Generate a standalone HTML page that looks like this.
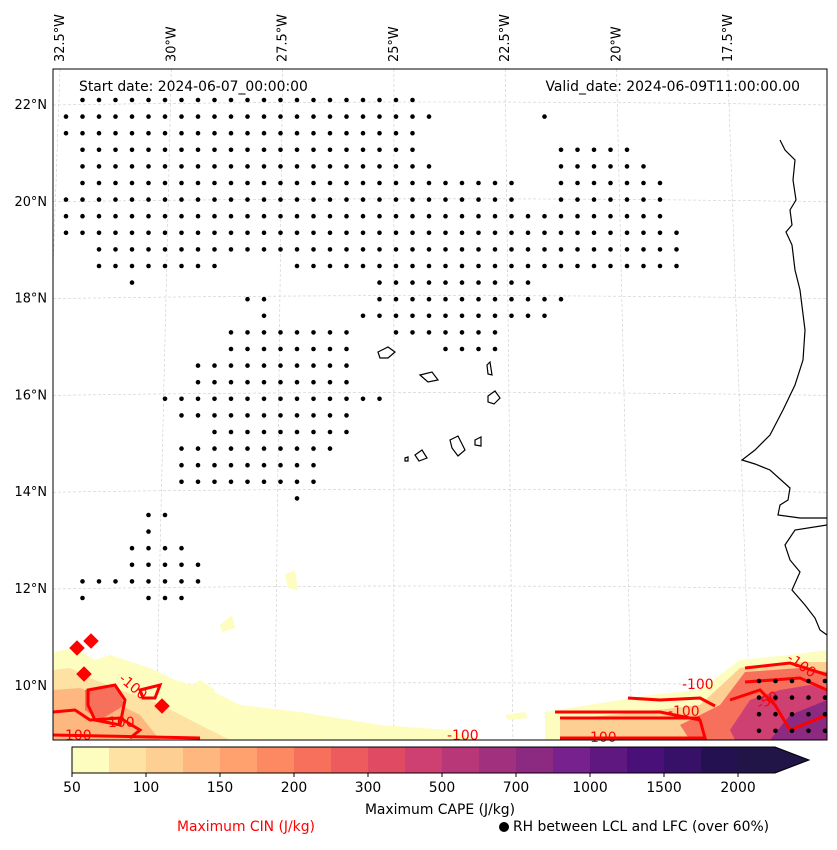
<!DOCTYPE html>
<html><head><meta charset="utf-8">
<style>
body{margin:0;background:#fff;font-family:"Liberation Sans",sans-serif;}
svg text{font-family:"DejaVu Sans","Liberation Sans",sans-serif;}
</style></head>
<body>
<svg id="chart" width="837" height="845" viewBox="0 0 837 845">
<defs><clipPath id="clip"><rect x="53" y="69" width="774" height="671"/></clipPath></defs>
<rect x="0" y="0" width="837" height="845" fill="#fff"/>
<g id="grid" clip-path="url(#clip)"></g>
<g id="fills" clip-path="url(#clip)">
  <path d="M53,652 L75,648 L95,660 L110,655 L150,668 L175,680 L210,690 L240,705 L300,712 L380,725 L450,730 L480,740 L53,740Z" fill="#fcfdbf"/>
  <path d="M53,670 L70,668 L95,680 L120,690 L150,700 L175,712 L200,725 L230,740 L53,740Z" fill="#fde2a3"/>
  <path d="M53,690 L80,688 L110,700 L140,715 L160,740 L53,740Z" fill="#feb77e"/>
  <path d="M85,690 L115,685 L125,705 L100,720 L85,710Z" fill="#f7705c"/>
  <path d="M185,690 L200,680 L215,690 L205,700Z" fill="#fcfdbf"/>
  <path d="M285,575 L295,570 L298,590 L288,588Z" fill="#fcfdbf"/>
  <path d="M220,625 L232,615 L235,628 L222,632Z" fill="#fcfdbf"/>
  <path d="M505,715 L525,712 L528,718 L508,720Z" fill="#fcfdbf"/>
  <path d="M545,712 L620,700 L650,695 L700,690 L740,660 L790,655 L827,650 L827,740 L545,740Z" fill="#fcfdbf"/>
  <path d="M560,720 L640,712 L700,705 L740,668 L790,662 L827,662 L827,740 L560,740Z" fill="#fecf92"/>
  <path d="M680,725 L720,705 L745,672 L800,668 L827,672 L827,740 L690,740Z" fill="#f7705c"/>
  <path d="M730,730 L750,700 L780,690 L810,685 L827,690 L827,740 L735,740Z" fill="#cd4071"/>
  <path d="M770,740 L790,715 L815,705 L827,700 L827,740Z" fill="#8c2981"/>
</g>
<g id="cin" clip-path="url(#clip)" fill="none" stroke="#ff0000" stroke-width="3">
  <path d="M53,712 L75,710 L90,720 L120,718 L140,730 L130,738"/>
  <path d="M88,690 L115,685 L125,700 L120,725 L95,720 L88,705Z"/>
  <path d="M140,690 L160,685 L155,698 L143,698Z"/>
  <path d="M555,712 L620,712 L660,712 L700,720 L705,738 L560,738"/>
  <path d="M560,718 L700,718"/>
  <path d="M628,698 L660,700 L700,698 L715,706"/>
  <path d="M745,668 L790,663 L827,675"/>
  <path d="M745,682 L800,678 L827,690"/>
  <path d="M730,700 L760,690 L775,705 L790,730 L827,715"/>
  <path d="M53,735 L200,738"/>
  <rect x="73" y="644" width="8" height="8" transform="rotate(45 77 648)" fill="#ff0000"/>
  <rect x="87" y="637" width="8" height="8" transform="rotate(45 91 641)" fill="#ff0000"/>
  <rect x="80" y="670" width="8" height="8" transform="rotate(45 84 674)" fill="#ff0000"/>
  <rect x="158" y="702" width="8" height="8" transform="rotate(45 162 706)" fill="#ff0000"/>
</g>
<g font-size="13.9" fill="#ff0000">
  <text x="682" y="689">-100</text><text x="668" y="716">-100</text>
  <text x="447" y="740">-100</text><text x="585" y="742">-100</text>
  <text x="103" y="727">-100</text><text x="60" y="740">-100</text>
  <text x="786" y="660" transform="rotate(35 786 660)">-100</text>
  <text x="118" y="680" transform="rotate(40 118 680)">-100</text>
  <text x="760" y="710" transform="rotate(-30 760 710)">-50</text>
</g>
<g id="dots" clip-path="url(#clip)"></g>
<g fill="none" stroke="#000" stroke-width="1.2" clip-path="url(#clip)">
  <path d="M780,140 L785,150 L795,160 L793,180 L796,200 L790,210 L792,225 L786,232 L792,245 L795,270 L800,290 L805,330 L803,360 L795,385 L783,410 L770,435 L755,450 L742,460 L755,464 L770,470 L790,488 L788,500 L780,505 L778,515 L800,518 L827,518"/>
  <path d="M827,525 L795,530 L785,545 L790,560 L800,572 L792,590 L805,605 L815,618 L820,630 L827,635"/>
  <path d="M378,352 L388,347 L395,352 L388,358 L380,358Z"/>
  <path d="M420,375 L432,372 L438,380 L428,382Z"/>
  <path d="M487,365 L490,362 L492,375 L488,374Z"/>
  <path d="M488,396 L495,391 L500,398 L494,404 L488,402Z"/>
  <path d="M450,440 L458,436 L465,450 L458,456 L452,448Z"/>
  <path d="M475,440 L481,437 L481,446 L475,445Z"/>
  <path d="M415,455 L422,450 L427,458 L419,461Z"/>
  <path d="M405,458 L408,457 L408,461 L405,461Z"/>
</g>
<rect x="53" y="69" width="774" height="671" fill="none" stroke="#000" stroke-width="1"/>
<g id="labels" font-size="12.9" fill="#000"></g>
<text x="79" y="91" font-size="13.9">Start date: 2024-06-07_00:00:00</text>
<text x="800" y="91" font-size="13.9" text-anchor="end">Valid_date: 2024-06-09T11:00:00.00</text>
<g id="cbar"></g>
<text x="440" y="814" font-size="13.9" text-anchor="middle">Maximum CAPE (J/kg)</text>
<text x="246" y="831" font-size="13.9" text-anchor="middle" fill="#ff0000">Maximum CIN (J/kg)</text>
<circle cx="504" cy="827" r="5" fill="#000"/>
<text x="513" y="831" font-size="13.9">RH between LCL and LFC (over 60%)</text>
</svg>
<script>
const lonLabels=["32.5°W","30°W","27.5°W","25°W","22.5°W","20°W","17.5°W"];
const latLabels=["22°N","20°N","18°N","16°N","14°N","12°N","10°N"];
const cbTicks=["50","100","150","200","300","500","700","1000","1500","2000"];
const cbColors=["#fcfdbf","#fde2a3","#fecf92","#feb77e","#fea16e","#fc8961","#f7705c","#ee5b5e","#e04a62","#cd4071","#b73779","#a1307e","#8c2981","#76218d","#5f187f","#4a1079","#361167","#231151","#211447"];
// dot rows: [rowIndex, startCol, endCol]
const dotRows=[[0,1,21],[1,0,22],[1,29,29],[2,0,21],[3,1,21],[3,30,34],[4,1,22],[4,30,35],[5,1,27],[5,30,36],[6,0,27],[6,30,36],[7,0,36],[8,0,37],[9,2,23],[9,24,37],[10,2,9],[10,14,27],[10,28,37],[11,4,4],[11,19,28],[12,11,12],[12,19,30],[13,12,12],[13,18,29],[14,10,17],[14,20,26],[15,10,17],[15,23,26],[16,8,17],[17,8,17],[18,6,19],[19,7,17],[20,9,17],[21,7,16],[22,7,15],[23,7,15],[24,14,14],[25,5,6],[26,5,5],[27,4,7],[28,4,8],[29,1,8],[30,1,1],[30,5,7],[35,42,46],[36,42,46],[37,42,46],[38,42,46],[39,0,0],[39,42,46]];
const NS="http://www.w3.org/2000/svg";
function mk(t,a,p){const e=document.createElementNS(NS,t);for(const k in a)e.setAttribute(k,a[k]);p.appendChild(e);return e;}
const colX=c=>66+16.5*c, rowY=r=>100+16.6*r;
const lonTop=i=>60+111.3*i, latY=i=>105+96.8*i;
const grid=document.getElementById('grid'), lab=document.getElementById('labels');
lonLabels.forEach((s,i)=>{const xt=lonTop(i),xb=xt+(xt-395)*0.07;
 const l=mk('line',{x1:xt,y1:69,x2:xb,y2:740,stroke:'#ccc','stroke-width':0.6,'stroke-dasharray':'3,2'},grid);
 
 const t=mk('text',{x:0,y:0,transform:`translate(${xt+4},62) rotate(-90)`},lab);t.textContent=s;
 });
latLabels.forEach((s,i)=>{const y=latY(i);
 const l=mk('path',{d:`M53,${y} Q440,${y-6} 827,${y}`,fill:'none',stroke:'#ccc','stroke-width':0.6,'stroke-dasharray':'3,2'},grid);
 
 const t=mk('text',{x:47,y:y+4,'text-anchor':'end'},lab);t.textContent=s;
 });
const dots=document.getElementById('dots');
dotRows.forEach(([r,a,b])=>{for(let c=a;c<=b;c++){const d=mk('circle',{cx:colX(c),cy:rowY(r),r:2.3,fill:'#000'},dots);
 }});
const cb=document.getElementById('cbar');const x0=72,bw=37,y0=747,h=26;
cbColors.forEach((c,i)=>{const r=mk('rect',{x:x0+i*bw,y:y0,width:bw+0.5,height:h,fill:c},cb);
 });
const xe=x0+cbColors.length*bw;
const tri=mk('path',{d:`M${xe},${y0} L${xe+34},${y0+h/2} L${xe},${y0+h}Z`,fill:cbColors[cbColors.length-1]},cb);

const ol=mk('path',{d:`M${x0},${y0} L${xe},${y0} L${xe+34},${y0+h/2} L${xe},${y0+h} L${x0},${y0+h}Z`,fill:'none',stroke:'#000','stroke-width':1},cb);

cbTicks.forEach((s,i)=>{const x=x0+i*2*bw;mk('line',{x1:x,y1:y0+h,x2:x,y2:y0+h+4,stroke:'#000'},cb);
 const t=mk('text',{x:x,y:y0+h+19,'font-size':13.9,'text-anchor':'middle'},cb);t.textContent=s;
 });
</script>
</body></html>
